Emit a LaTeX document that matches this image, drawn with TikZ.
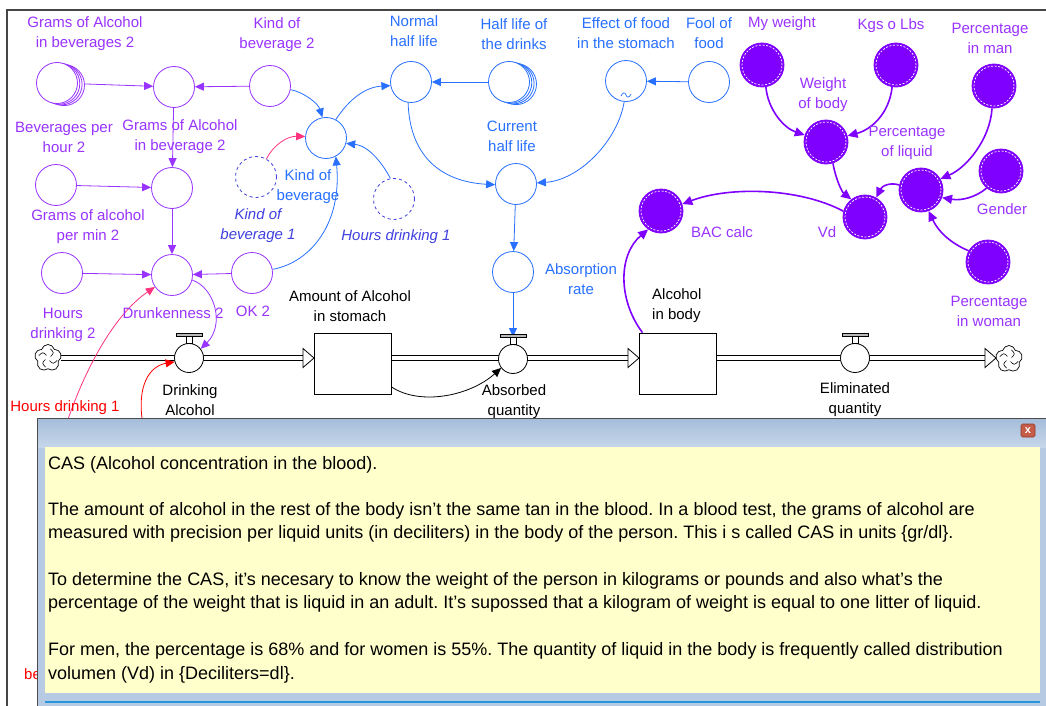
\documentclass[tikz,border=0pt]{standalone}
\usepackage{fontspec}
\setmainfont{Liberation Sans}
\usetikzlibrary{arrows.meta,shapes.symbols,calc}

\definecolor{purp}{RGB}{153,51,255}
\definecolor{pfc}{RGB}{127,0,255}
\definecolor{blu}{RGB}{40,112,255}
\definecolor{ital}{RGB}{64,64,224}
\definecolor{pinkc}{RGB}{255,51,128}
\definecolor{redc}{RGB}{255,0,0}
\definecolor{fr}{RGB}{70,70,70}
\definecolor{panelbg}{RGB}{182,202,228}
\definecolor{bartop}{RGB}{166,189,218}
\definecolor{barbot}{RGB}{198,214,234}
\definecolor{note}{RGB}{255,255,204}
\definecolor{edgecyan}{RGB}{40,150,220}
\definecolor{closebtn}{RGB}{196,92,72}
\definecolor{closeedge}{RGB}{140,60,45}

\pgfdeclarelayer{bg}
\pgfdeclarelayer{fg}
\pgfsetlayers{bg,main,fg}

\newcommand{\vstem}[1]{%
  \draw[line width=0.7pt, fill=white] ([xshift=-3pt]#1.north) rectangle ([xshift=3pt,yshift=7pt]#1.north);
  \draw[line width=0.7pt, fill=gray!55] ([xshift=-13pt,yshift=7pt]#1.north) rectangle ([xshift=13pt,yshift=10pt]#1.north);}

\begin{document}
\frenchspacing
\begin{tikzpicture}[x=1pt,y=-1pt,
  font=\fontsize{15}{20}\selectfont,
  lbl/.style={inner sep=0pt, align=center},
  plbl/.style={lbl, text=purp},
  blbl/.style={lbl, text=blu},
  ilbl/.style={lbl, text=ital, font=\fontsize{15}{20}\selectfont\itshape},
  klbl/.style={lbl, text=black},
  paux/.style={circle, draw=purp, fill=white, line width=0.8pt, minimum size=41pt, inner sep=0pt},
  baux/.style={circle, draw=blu, fill=white, line width=0.8pt, minimum size=41pt, inner sep=0pt},
  daux/.style={circle, draw=ital, fill=white, dashed, line width=0.8pt, minimum size=41pt, inner sep=0pt},
  faux/.style={circle, draw=pfc, fill=pfc, line width=0.8pt, minimum size=44pt, inner sep=0pt},
  valve/.style={circle, draw=black, fill=white, line width=0.8pt, minimum size=29pt, inner sep=0pt},
  stock/.style={rectangle, draw=black, fill=white, line width=0.8pt, minimum width=77pt, minimum height=61pt, inner sep=0pt},
  cloudn/.style={cloud, cloud puffs=5, aspect=1, draw=black, fill=white, minimum size=27pt, inner sep=0pt, line width=0.7pt},
  arrtip/.style={-{Triangle[length=9pt,width=8pt]}},
  parr/.style={draw=purp, line width=0.8pt, arrtip},
  barr/.style={draw=blu, line width=0.8pt, arrtip},
  farr/.style={draw=pfc, line width=1.6pt, -{Triangle[length=10pt,width=9pt]}},
  pinkarr/.style={draw=pinkc, line width=0.8pt, arrtip},
  redarr/.style={draw=redc, line width=0.8pt, arrtip},
  karr/.style={draw=black, line width=0.8pt, arrtip},
  pipe/.style={draw=black, line width=0.8pt, double=white, double distance=4.2pt},
  pipehead/.style={draw=black, fill=white, line width=0.8pt, line join=miter},
  ring/.style={draw=white, dash pattern=on 2pt off 1.6pt, line width=0.7pt}
]
\useasboundingbox (0,0) rectangle (1046,706);

\begin{pgfonlayer}{bg}
  \fill[white] (0,0) rectangle (1046,706);
  \draw[fr, line width=1.4pt] (7,706) -- (7,10) -- (1046,10);
\end{pgfonlayer}

% ---------- purple auxiliaries (left block) ----------
\foreach \d in {7,4.6,2.3}
  \draw[purp, line width=0.8pt, fill=white] (57+\d,83+0.3*\d) circle (20.5pt);
\node[paux] (gib) at (57,83) {};
\node[paux] (gab) at (174,87) {};
\node[paux] (kb2) at (270,86) {};
\node[paux] (bph) at (56,185) {};
\node[paux] (gpm) at (172,188) {};
\node[paux] (hd2) at (62,273) {};
\node[paux] (dr2) at (172,275) {};
\node[paux] (ok2) at (252,273) {};

\node[plbl] (lgib) at (85,34) {Grams of Alcohol\\in beverages 2};
\node[plbl] (lkb2) at (277,35) {Kind of\\beverage 2};
\node[plbl] (lbph) at (64,137) {Beverages per\\hour 2};
\node[plbl] (lgab) at (180,137) {Grams of Alcohol\\in beverage 2};
\node[plbl] (lgpm) at (88,227) {Grams of alcohol\\per min 2};
\node[plbl] (lhd2) at (63,325) {Hours\\drinking 2};
\node[plbl] (ldr2) at (173,313) {Drunkenness 2};
\node[plbl] (lok2) at (253,311) {OK 2};

% ---------- blue auxiliaries ----------
\node[baux] (kob) at (326,138) {};
\node[baux] (nhl) at (411,82) {};
\foreach \d in {7,4.6,2.3}
  \draw[blu, line width=0.8pt, fill=white] (509+\d,82+0.3*\d) circle (20.5pt);
\node[baux] (hld) at (509,82) {};
\node[baux] (chl) at (516,184) {};
\node[baux] (eof) at (626,81) {};
\node[baux] (fof) at (709,82) {};
\node[baux] (abr) at (513,272) {};
\draw[blu, line width=0.7pt] (621,96) .. controls (623,92) and (625,92) .. (626,95)
  .. controls (627,98) and (629,98) .. (631,94);
\node[daux] (kb1) at (256,177) {};
\node[daux] (hdk1) at (394,199) {};

\node[blbl] (lkob) at (308,187) {Kind of\\beverage};
\node[blbl] (lnhl) at (414,31) {Normal\\half life};
\node[blbl] (lhld) at (514,34) {Half life of\\the drinks};
\node[blbl] (lchl) at (512,136) {Current\\half life};
\node[blbl] (leof) at (626,33) {Effect of food\\in the stomach};
\node[blbl] (lfof) at (709,33) {Fool of\\food};
\node[blbl] (labr) at (581,279) {Absorption\\rate};
\node[ilbl] (lkb1) at (258,226) {Kind of\\beverage 1};
\node[ilbl] (lhdk1) at (396,237) {Hours drinking 1};

% ---------- filled purple variables ----------
\foreach \n/\x/\y in {myw/762/65, kgs/896/65, pim/994/86, wob/826/142, pol/921/190,
                     gen/1001/171, vd/865/217, bac/661/211, piw/988/262} {
  \node[faux] (\n) at (\x,\y) {};
  \draw[ring] (\n) circle (20pt);
}
\node[plbl] (lmyw) at (782,24) {My weight};
\node[plbl] (lkgs) at (891,26) {Kgs o Lbs};
\node[plbl] (lpim) at (990,38) {Percentage\\in man};
\node[plbl] (lwob) at (823,95) {Weight\\of body};
\node[plbl] (lpol) at (907,143) {Percentage\\of liquid};
\node[plbl] (lgen) at (1002,209) {Gender};
\node[plbl] (lvd) at (827,232) {Vd};
\node[plbl] (lbac) at (722,232) {BAC calc};
\node[plbl] (lpiw) at (989,311) {Percentage\\in woman};

% ---------- stocks, flows, valves, clouds ----------
\node[stock] (aas) at (352.5,363.5) {};
\node[stock] (aib) at (678,363.5) {};
\node[cloudn] (cl1) at (48,358) {};
\node[cloudn] (cl2) at (1009,359) {};
\foreach \c in {cl1,cl2} {
  \foreach \a in {30,120,210,300}
    \draw[line width=0.6pt] ($(\c)+(\a:3pt)$) .. controls ($(\c)+(\a+10:8pt)$) .. ($(\c)+(\a+45:9.5pt)$);
}
\coordinate (h1) at (303,358);
\coordinate (s1) at (391,358);
\coordinate (h2) at (628,358);
\coordinate (s2) at (717,358);
\coordinate (h3) at (985,358);
\begin{pgfonlayer}{bg}
  \draw[pipe] (cl1.east) -- (h1);
  \draw[pipe] (s1) -- (h2);
  \draw[pipe] (s2) -- (h3);
\end{pgfonlayer}
\draw[pipehead] (303,348.5) -- (314,358) -- (303,367.5) -- cycle;
\draw[pipehead] (628,348.5) -- (639,358) -- (628,367.5) -- cycle;
\draw[pipehead] (985,348.5) -- (996,358) -- (985,367.5) -- cycle;

\node[valve] (vda) at (189,358) {};
\node[valve] (vaq) at (513,359) {};
\node[valve] (veq) at (855,358) {};
\vstem{vda}
\vstem{vaq}
\vstem{veq}
\coordinate (vaqtop) at (513,337);

\node[klbl] (laas) at (350,306) {Amount of Alcohol\\in stomach};
\node[klbl, align=left, anchor=west] (laib) at (652,306) {Alcohol\\in body};
\node[klbl] (lvda) at (190,400) {Drinking\\Alcohol};
\node[klbl] (lvaq) at (514,402) {Absorbed\\quantity};
\node[klbl] (lveq) at (855,400) {Eliminated\\quantity};

\node[lbl, text=redc] (lhd1) at (65,408) {Hours drinking 1};
\node[lbl, text=redc, anchor=base west] (lbe) at (24,679) {be};
\coordinate (hd1src) at (66,425);
\coordinate (rsrc) at (143,425);

% ---------- connectors ----------
\begin{pgfonlayer}{bg}
  \draw[parr] (gib) -- (gab);
  \draw[parr] (kb2) -- (gab);
  \draw[parr] (gab) -- (gpm);
  \draw[parr] (bph) -- (gpm);
  \draw[parr] (gpm) -- (dr2);
  \draw[parr] (hd2) -- (dr2);
  \draw[parr] (ok2) -- (dr2);
  \draw[parr] (dr2.-14) .. controls (215,288) and (225,325) .. (vda.38);

  \draw[barr] (kb2.-10) .. controls (303,92) and (318,103) .. (kob.100);
  \draw[barr] (kob.62) .. controls (350,98) and (366,87) .. (nhl.190);
  \draw[barr] (hld) -- (nhl);
  \draw[barr] (nhl.-98) .. controls (410,160) and (445,182) .. (chl.182);
  \draw[barr] (eof.-95) .. controls (618,140) and (580,180) .. (chl.3);
  \draw[barr] (fof) -- (eof);
  \draw[barr] (chl) -- (abr);
  \draw[barr] (abr) -- (vaqtop);
  \draw[barr] (hdk1.100) .. controls (384,166) and (370,146) .. (kob.-15);
  \draw[barr] (ok2.10) .. controls (312,262) and (342,222) .. (kob.-62);

  \draw[pinkarr] (kb1.60) .. controls (274,144) and (288,136) .. (kob.176);
  \draw[pinkarr] (hd1src) .. controls (88,360) and (118,312) .. (dr2.-145);
  \draw[redarr] (rsrc) .. controls (136,385) and (150,366) .. (vda.195);
  \draw[karr] (aas.-31) .. controls (420,406) and (470,396) .. (vaq.-143);

  \draw[farr] (myw.-80) .. controls (768,110) and (784,128) .. (wob.162);
  \draw[farr] (kgs.-100) .. controls (889,115) and (870,130) .. (wob.16);
  \draw[farr] (wob.-72) .. controls (836,180) and (842,192) .. (vd.128);
  \draw[farr] (pol.167) .. controls (890,182) and (882,186) .. (vd.60);
  \draw[farr] (pim.-95) .. controls (990,140) and (966,168) .. (pol.30);
  \draw[farr] (gen.-130) .. controls (976,197) and (962,201) .. (pol.-20);
  \draw[farr] (piw.150) .. controls (955,245) and (940,235) .. (pol.-70);
  \draw[farr] (vd.165) .. controls (800,188) and (730,186) .. (bac.18);
  \draw[farr] (aib.139) .. controls (618,300) and (618,255) .. (bac.-125);
\end{pgfonlayer}

% ---------- description window ----------
\begin{pgfonlayer}{fg}
  \fill[panelbg] (37,418) rectangle (1046,706);
  \shade[top color=bartop, bottom color=barbot] (38,419) rectangle (1046,447);
  \draw[gray!60!black, line width=1pt] (37,706) -- (37,418) -- (1046,418);
  \fill[note] (45,447) rectangle (1040,693);
  \draw[edgecyan, line width=1.2pt] (45,702) -- (1040,702);
  \node[rectangle, rounded corners=1.5pt, fill=closebtn, draw=closeedge, line width=0.6pt,
        minimum width=14pt, minimum height=13pt, inner sep=0pt, text=white,
        font=\fontsize{11}{11}\selectfont\bfseries] (closeb) at (1028,430.5) {x};
  \begin{scope}[every node/.style={anchor=base west, inner sep=0pt, font=\fontsize{18}{23.5}\selectfont}]
    \node (p1) at (48,469) {CAS (Alcohol concentration in the blood).};
    \node (p2) at (48,515) {The amount of alcohol in the rest of the body isn't the same tan in the blood. In a blood test, the grams of alcohol are};
    \node (p3) at (48,538.5) {measured with precision per liquid units (in deciliters) in the body of the person. This i s called CAS in units \{gr/dl\}.};
    \node (p4) at (48,585) {To determine the CAS, it's necesary to know the weight of the person in kilograms or pounds and also what's the};
    \node (p5) at (48,608.5) {percentage of the weight that is liquid in an adult. It's supossed that a kilogram of weight is equal to one litter of liquid.};
    \node (p6) at (48,655.5) {For men, the percentage is 68\% and for women is 55\%. The quantity of liquid in the body is frequently called distribution};
    \node (p7) at (48,679) {volumen (Vd) in \{Deciliters=dl\}.};
  \end{scope}
\end{pgfonlayer}
\end{tikzpicture}
\end{document}
